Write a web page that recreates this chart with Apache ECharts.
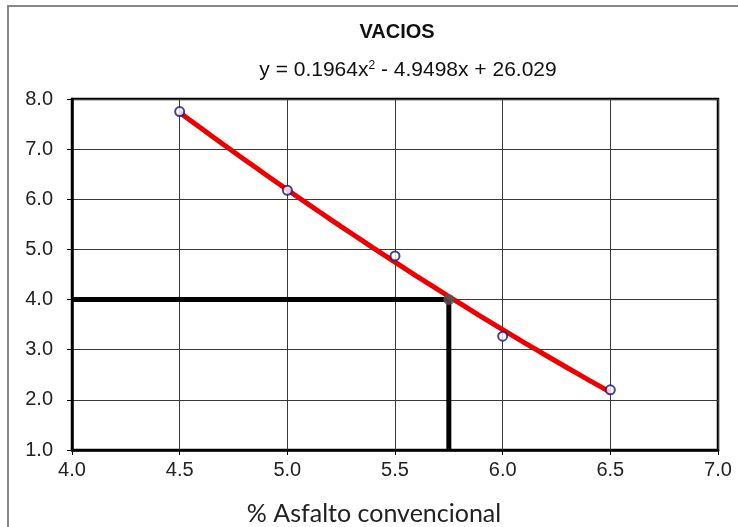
<!DOCTYPE html>
<html>
<head>
<meta charset="utf-8">
<script src="https://cdn.jsdelivr.net/npm/echarts@6/dist/echarts.min.js"></script>
<style>
  html, body { margin: 0; padding: 0; background: #fff; }
  #chart { width: 738px; height: 527px; }
</style>
</head>
<body>
<div id="chart"></div>
<script>
// Measured air voids versus asphalt content
const asphaltPct = [4.5, 5.0, 5.5, 6.0, 6.5];
const voidsPct = [7.75, 6.18, 4.87, 3.27, 2.2];

// Quadratic trend line coefficients: y = a x^2 + b x + c
const trendCoef = [0.1964, -4.9498, 26.029];

// Design point: 4.0 % voids
const designPoint = [5.75, 4.0];

// Axis ranges
const xRange = [4.0, 7.0, 0.5];
const yRange = [1.0, 8.0, 1.0];

const points = asphaltPct.map((x, i) => [x, voidsPct[i]]);

const trend = [];
for (let k = 0; k <= 40; k++) {
  const x = asphaltPct[0] + (asphaltPct[asphaltPct.length - 1] - asphaltPct[0]) * k / 40;
  trend.push([x, trendCoef[0] * x * x + trendCoef[1] * x + trendCoef[2]]);
}

const dropLine = [
  [xRange[0], designPoint[1]],
  [designPoint[0], designPoint[1]],
  [designPoint[0], yRange[0]]
];

const fmt = v => v.toFixed(1);
const eqText = 'y = ' + trendCoef[0] + 'x{sup|2} - ' + Math.abs(trendCoef[1]) + 'x + ' + trendCoef[2];

const chart = echarts.init(document.getElementById('chart'));
chart.setOption({
  animation: false,
  backgroundColor: '#fff',
  title: [
    {
      text: 'VACIOS',
      left: 392, top: 17, textAlign: 'center',
      textStyle: { fontFamily: 'Liberation Sans', fontWeight: 'bold', fontSize: 20, color: '#111' }
    },
    {
      text: eqText,
      left: 403, top: 55, textAlign: 'center',
      textStyle: {
        fontFamily: 'Liberation Sans', fontWeight: 'normal', fontSize: 21, color: '#111',
        rich: { sup: { fontSize: 12, verticalAlign: 'top', padding: [0, 0, 9, 0], fontFamily: 'Liberation Sans', color: '#111' } }
      }
    },
    {
      text: '% Asfalto convencional',
      left: 369, top: 496, textAlign: 'center',
      textStyle: { fontFamily: 'Lato', fontWeight: 'normal', fontSize: 25, color: '#222' }
    }
  ],
  graphic: [
    { type: 'line', shape: { x1: 7, y1: 6, x2: 738, y2: 6 }, style: { stroke: '#888', lineWidth: 2 } },
    { type: 'line', shape: { x1: 8, y1: 6, x2: 8, y2: 527 }, style: { stroke: '#888', lineWidth: 2 } }
  ],
  grid: {
    left: 72, right: 20, top: 99, bottom: 77,
    show: true, borderColor: '#000', borderWidth: 2.5, backgroundColor: '#fff'
  },
  xAxis: {
    type: 'value', min: xRange[0], max: xRange[1], interval: xRange[2],
    axisLine: { show: true, onZero: false, lineStyle: { color: '#000', width: 2.5 } },
    axisTick: { show: true, length: 5, lineStyle: { color: '#000', width: 1 } },
    axisLabel: { formatter: fmt, fontFamily: 'Liberation Sans', fontSize: 20, color: '#222', margin: 10 },
    splitLine: { show: true, lineStyle: { color: '#3a3a3a', width: 1 } }
  },
  yAxis: {
    type: 'value', min: yRange[0], max: yRange[1], interval: yRange[2],
    axisLine: { show: true, onZero: false, lineStyle: { color: '#000', width: 2.5 } },
    axisTick: { show: true, length: 5, lineStyle: { color: '#000', width: 1 } },
    axisLabel: { formatter: fmt, fontFamily: 'Liberation Sans', fontSize: 20, color: '#222', margin: 19 },
    splitLine: { show: true, lineStyle: { color: '#3a3a3a', width: 1 } }
  },
  series: [
    {
      type: 'line', data: dropLine, symbol: 'none', z: 3,
      lineStyle: { color: '#000', width: 5 }
    },
    {
      type: 'line', data: trend, symbol: 'none', smooth: false, z: 4,
      lineStyle: { color: '#ee0000', width: 5 }
    },
    {
      type: 'scatter', data: [designPoint], symbol: 'circle', symbolSize: 11, z: 5,
      itemStyle: { color: '#555', opacity: 0.8 }
    },
    {
      type: 'scatter', data: points, symbol: 'circle', symbolSize: 9, z: 6,
      itemStyle: { color: '#fff', borderColor: '#16167a', borderWidth: 2 }
    }
  ]
});
</script>
</body>
</html>
